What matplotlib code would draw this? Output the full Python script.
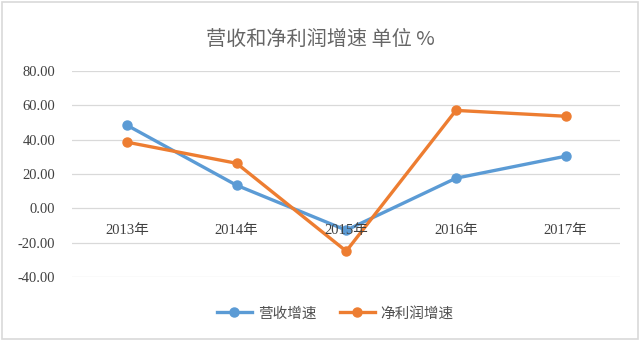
import matplotlib.pyplot as plt

plt.rcParams['font.family'] = ['Noto Sans CJK SC', 'DejaVu Sans']

years = ['2013年', '2014年', '2015年', '2016年', '2017年']
revenue_growth = [48.4, 13.4, -12.8, 17.5, 30.3]
profit_growth = [38.5, 26.2, -25.0, 57.0, 53.6]
y_ticks = [-40, -20, 0, 20, 40, 60, 80]

fig = plt.figure(figsize=(6.4, 3.41), dpi=100)
ax = fig.add_axes([0.1125, 0.188, 0.857, 0.604])

x = range(len(years))
ax.plot(x, revenue_growth, color='#5B9BD5', lw=2.4, marker='o', ms=6.5, label='营收增速', zorder=3)
ax.plot(x, profit_growth, color='#ED7D31', lw=2.4, marker='o', ms=6.5, label='净利润增速', zorder=3)

ax.set_xlim(-0.5, len(years) - 0.5)
ax.set_ylim(-40, 80)
ax.set_yticks(y_ticks)
ax.set_yticklabels([f'{v:.2f}' for v in y_ticks], fontfamily='Liberation Serif',
                   fontsize=10.5, color='#404040')
ax.tick_params(axis='y', length=0, pad=12)
ax.set_xticks([])
ax.grid(axis='y', color='#D9D9D9', lw=0.9)
for s in ax.spines.values():
    s.set_visible(False)

for i, lab in enumerate(years):
    ax.annotate(lab, (i, 0), xytext=(0, -11), textcoords='offset points',
                ha='center', va='top', fontsize=10.5, color='#404040',
                family=['Liberation Serif', 'Noto Sans CJK SC'])

fig.text(0.5, 0.885, '营收和净利润增速 单位 %', ha='center', va='center',
         fontsize=14.5, color='#666666', fontweight='light')

ax.legend(loc='upper center', bbox_to_anchor=(0.48, -0.08), ncol=2, frameon=False,
          fontsize=10.5, labelcolor='#505050', handlelength=2.4, handletextpad=0.4,
          columnspacing=1.6)

fig.add_artist(plt.Rectangle((0.003, 0.005), 0.994, 0.99, transform=fig.transFigure,
                             fill=False, edgecolor='#D9D9D9', lw=1.2))

fig.savefig('out.png', dpi=100)
